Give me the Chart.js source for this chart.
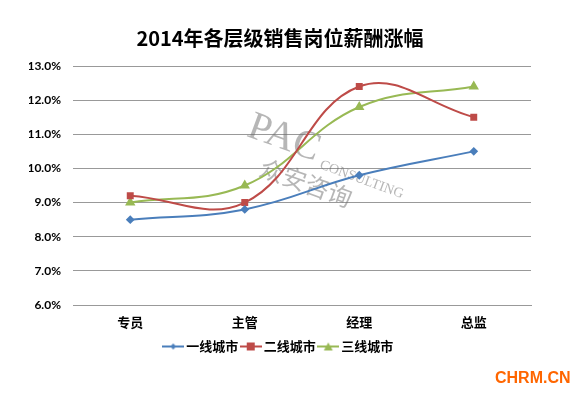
<!DOCTYPE html>
<html>
<head>
<meta charset="utf-8">
<script src="https://cdn.jsdelivr.net/npm/chart.js@4.4.1/dist/chart.umd.min.js"></script>
<style>
  html, body { margin: 0; padding: 0; background: #fff; }
  #wrap { width: 582px; height: 397px; }
</style>
</head>
<body>
<div id="wrap"><canvas id="myChart" width="582" height="397"></canvas></div>
<script>
const labels = ['专员', '主管', '经理', '总监'];
const tier1 = [8.5, 8.8, 9.8, 10.5];
const tier2 = [9.2, 9.0, 12.4, 11.5];
const tier3 = [9.0, 9.5, 11.8, 12.4];
const seriesNames = ['一线城市', '二线城市', '三线城市'];
const colors = ['#4a7ebb', '#be4b48', '#98b954'];

const cjk = '"Noto Sans CJK SC", sans-serif';
const num = 'Lato, "Noto Sans", sans-serif';

// legend symbol: short line with the marker on it, like the office chart
function legendIcon(color, kind) {
  const cv = document.createElement('canvas');
  cv.width = 22; cv.height = 10;
  const c = cv.getContext('2d');
  c.strokeStyle = color; c.fillStyle = color; c.lineWidth = 2;
  c.beginPath(); c.moveTo(0, 5); c.lineTo(22, 5); c.stroke();
  c.beginPath();
  if (kind === 'rect') c.rect(7, 1, 8, 8);
  else if (kind === 'tri') { c.moveTo(11, 1); c.lineTo(15.5, 9); c.lineTo(6.5, 9); c.closePath(); }
  else { c.moveTo(11, 2); c.lineTo(14, 5); c.lineTo(11, 8); c.lineTo(8, 5); c.closePath(); }
  c.fill();
  return cv;
}

// watermark + site mark
const extras = {
  id: 'extras',
  beforeDatasetsDraw(chart) {
    const c = chart.ctx;
    c.save();
    c.translate(290, 145);
    c.rotate(0.35);
    c.fillStyle = 'rgba(110,110,110,0.5)';
    c.font = '40px "Liberation Serif", serif';
    c.fillText('PAC', -45, -4);
    c.font = '14px "Liberation Serif", serif';
    c.fillText('CONSULTING', 35, 8);
    c.font = '24px ' + cjk;
    c.fillText('众安咨询', -20, 30);
    c.restore();
  },
  afterDraw(chart) {
    const c = chart.ctx;
    c.save();
    c.fillStyle = '#ff6600';
    c.font = 'bold 16px "Liberation Sans", Arial, sans-serif';
    c.textBaseline = 'middle';
    c.fillText('CHRM.CN', 495, 379);
    c.restore();
  }
};

const mk = (i, data, style, r) => ({
  label: seriesNames[i],
  data: data,
  borderColor: colors[i],
  backgroundColor: colors[i],
  borderWidth: 2,
  pointStyle: style,
  pointRadius: r,
  pointHoverRadius: r,
  tension: 0.4
});

const icons = [legendIcon(colors[0], 'dia'), legendIcon(colors[1], 'rect'), legendIcon(colors[2], 'tri')];

new Chart(document.getElementById('myChart'), {
  type: 'line',
  data: {
    labels: labels,
    datasets: [
      mk(0, tier1, 'rectRot', 3),
      mk(1, tier2, 'rect', 3.5),
      mk(2, tier3, 'triangle', 4)
    ]
  },
  options: {
    responsive: false,
    animation: false,
    layout: { padding: { left: 29, right: 51, top: 0, bottom: 34 } },
    plugins: {
      title: {
        display: true,
        text: '2014年各层级销售岗位薪酬涨幅',
        color: '#000',
        font: { family: cjk, size: 20, weight: 'bold' },
        padding: { top: 26, bottom: 16 }
      },
      legend: {
        position: 'bottom',
        labels: {
          usePointStyle: true,
          padding: 6,
          color: '#000',
          font: { family: cjk, size: 13, weight: 'bold' },
          generateLabels(chart) {
            return chart.data.datasets.map((ds, i) => ({
              text: ds.label,
              pointStyle: icons[i],
              fillStyle: colors[i],
              strokeStyle: colors[i],
              lineWidth: 0,
              fontColor: '#000',
              datasetIndex: i,
              hidden: false
            }));
          }
        }
      },
      tooltip: { enabled: false }
    },
    scales: {
      x: {
        offset: true,
        grid: { display: false },
        border: { color: '#999', width: 1 },
        ticks: { color: '#000', font: { family: cjk, size: 13, weight: 'bold' }, padding: 1 },
        afterFit(scale) { scale.height = 29; }
      },
      y: {
        min: 6,
        max: 13,
        ticks: {
          stepSize: 1,
          color: '#000',
          padding: 12,
          font: { family: num, size: 12, weight: 'bold' },
          callback: v => v.toFixed(1) + '%'
        },
        grid: { color: '#999', drawTicks: false },
        border: { display: false },
        afterFit(scale) { scale.width = 44; }
      }
    }
  },
  plugins: [extras]
});
</script>
</body>
</html>
